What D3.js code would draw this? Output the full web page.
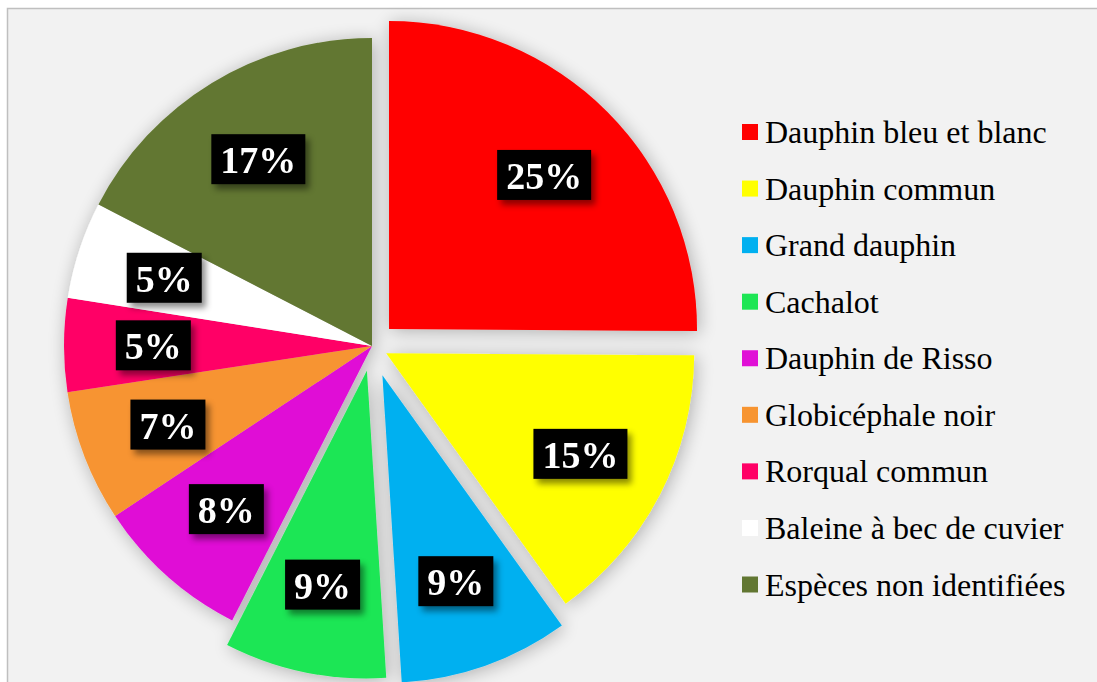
<!DOCTYPE html>
<html>
<head>
<meta charset="utf-8">
<script src="https://cdn.jsdelivr.net/npm/d3@7"></script>
<style>
  html, body { margin: 0; padding: 0; background: #fff; }
  svg { display: block; }
</style>
</head>
<body>
<svg></svg>
<script>
const width = 1097;
const height = 682;

// species, in clockwise order from 12 o'clock
const species = [
    "Dauphin bleu et blanc",
    "Dauphin commun",
    "Grand dauphin",
    "Cachalot",
    "Dauphin de Risso",
    "Globicéphale noir",
    "Rorqual commun",
    "Baleine à bec de cuvier",
    "Espèces non identifiées"
];
// share of sightings, in percent
const shares = [25.1, 15.0, 8.9, 8.5, 8.2, 6.9, 4.9, 5.1, 17.4];

const colors = ["#ff0000", "#ffff00", "#00b0f0", "#1ee655", "#e010d6", "#f79430", "#ff0066", "#ffffff", "#627732"];
// how far each slice is pulled out of the pie (px)
const explode = [24, 16, 31, 25, 0, 0, 0, 0, 0];

const cx = 372, cy = 346, radius = 308;

const svg = d3.select("svg")
    .attr("width", width)
    .attr("height", height)
    .attr("viewBox", [0, 0, width, height]);

const defs = svg.append("defs");

// soft gray glow around the pie
const glow = defs.append("filter").attr("id", "glow")
    .attr("x", "-20%").attr("y", "-20%").attr("width", "140%").attr("height", "140%");
glow.append("feGaussianBlur").attr("in", "SourceAlpha").attr("stdDeviation", 9).attr("result", "blur");
glow.append("feOffset").attr("in", "blur").attr("dx", 2).attr("dy", 2).attr("result", "off");
glow.append("feComponentTransfer").attr("in", "off").attr("result", "shadow")
    .append("feFuncA").attr("type", "linear").attr("slope", 0.28);
const gm = glow.append("feMerge");
gm.append("feMergeNode").attr("in", "shadow");
gm.append("feMergeNode").attr("in", "SourceGraphic");

// shadow under the label boxes
defs.append("filter").attr("id", "boxShadow")
    .attr("x", "-30%").attr("y", "-30%").attr("width", "160%").attr("height", "170%")
    .append("feDropShadow")
    .attr("dx", 4).attr("dy", 5).attr("stdDeviation", 3)
    .attr("flood-color", "#000").attr("flood-opacity", 0.45);

// chart area
svg.append("rect")
    .attr("x", 7.5).attr("y", 8.5)
    .attr("width", 1200).attr("height", 800)
    .attr("fill", "#f2f2f2")
    .attr("stroke", "#bfbfbf")
    .attr("stroke-width", 1.5);

const pie = d3.pie().sort(null).value(d => d)(shares);

const arc = d3.arc().innerRadius(0).outerRadius(radius);

function offset(d, i) {
    const a = (d.startAngle + d.endAngle) / 2;
    return [Math.sin(a) * explode[i], -Math.cos(a) * explode[i]];
}

const slices = svg.append("g")
    .attr("transform", `translate(${cx},${cy})`)
    .attr("filter", "url(#glow)");

slices.selectAll("path")
    .data(pie)
    .join("path")
    .attr("d", arc)
    .attr("fill", (d, i) => colors[i])
    .attr("transform", (d, i) => `translate(${offset(d, i)})`);

// percentage labels in black boxes
const labelArc = d3.arc().innerRadius(radius * 0.71).outerRadius(radius * 0.71);

const labels = svg.append("g")
    .attr("transform", `translate(${cx},${cy})`)
    .selectAll("g")
    .data(pie)
    .join("g")
    .attr("transform", (d, i) => {
        const [ox, oy] = offset(d, i);
        const [lx, ly] = labelArc.centroid(d);
        return `translate(${lx + ox},${ly + oy})`;
    });

const boxes = labels.append("rect")
    .attr("fill", "#000")
    .attr("filter", "url(#boxShadow)");

const texts = labels.append("text")
    .attr("text-anchor", "middle")
    .attr("y", 14)
    .attr("fill", "#fff")
    .style("font-family", "'Liberation Serif', 'Times New Roman', serif")
    .style("font-weight", "bold")
    .style("font-size", "38px")
    .text(d => Math.round(d.data) + "%");

texts.each(function () {
    const w = this.getComputedTextLength() + 18;
    d3.select(this.parentNode).select("rect")
        .attr("x", -w / 2).attr("y", -25)
        .attr("width", w).attr("height", 50);
});

// legend
const legendY = d3.scalePoint().domain(species).range([132, 584.5]);

const legend = svg.append("g")
    .selectAll("g")
    .data(species)
    .join("g")
    .attr("transform", d => `translate(742,${legendY(d)})`);

legend.append("rect")
    .attr("x", 0).attr("y", -8)
    .attr("width", 16).attr("height", 16)
    .attr("fill", (d, i) => colors[i]);

legend.append("text")
    .attr("x", 23).attr("y", 11)
    .attr("fill", "#000")
    .style("font-family", "'Liberation Serif', 'Times New Roman', serif")
    .style("font-size", "32px")
    .text(d => d);
</script>
</body>
</html>
